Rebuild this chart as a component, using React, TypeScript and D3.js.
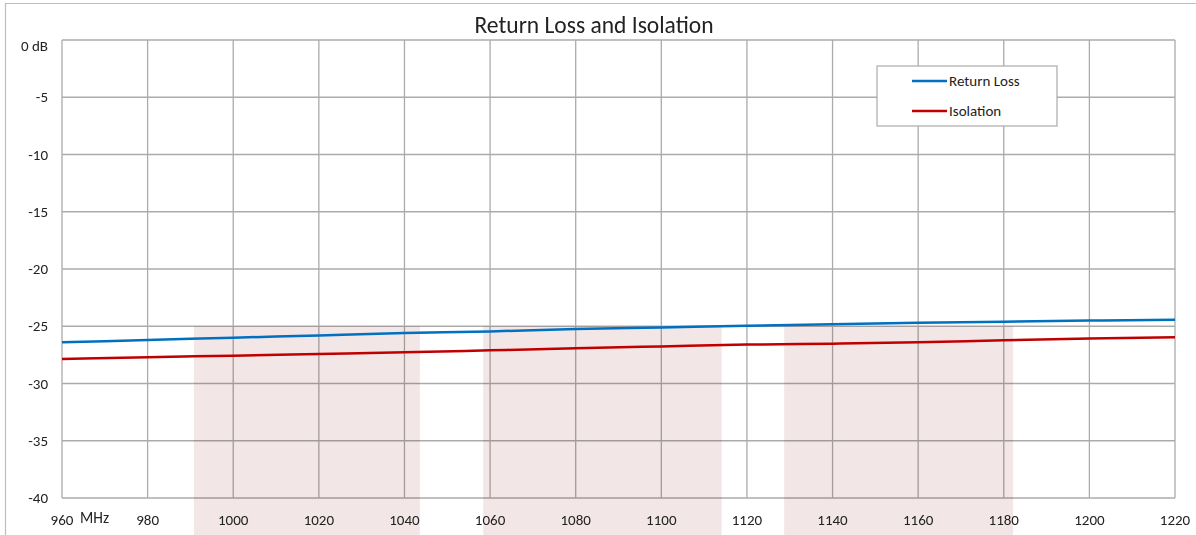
import React, { useRef, useEffect } from "react";
import * as d3 from "d3";

// frequency (MHz)
const freqs = [960, 980, 1000, 1020, 1040, 1060, 1080, 1100, 1120, 1140, 1160, 1180, 1200, 1220];
// dB values
const returnLoss = [-26.4, -26.2, -26.0, -25.8, -25.6, -25.45, -25.25, -25.1, -24.95, -24.83, -24.7, -24.6, -24.5, -24.43];
const isolation = [-27.86, -27.7, -27.57, -27.43, -27.28, -27.1, -26.93, -26.76, -26.6, -26.52, -26.4, -26.23, -26.08, -25.97];
// shaded frequency bands (MHz)
const bands: [number, number][] = [[990.8, 1043.6], [1058.4, 1114.1], [1128.7, 1182.2]];
const xTicks = [960, 980, 1000, 1020, 1040, 1060, 1080, 1100, 1120, 1140, 1160, 1180, 1200, 1220];
const yTicks = [0, -5, -10, -15, -20, -25, -30, -35, -40];

const series = [
    { name: "Return Loss", values: returnLoss, color: "#0070c0" },
    { name: "Isolation", values: isolation, color: "#c00000" },
];

export default function App() {
    const ref = useRef<SVGSVGElement | null>(null);

    useEffect(() => {
        const width = 1196;
        const height = 535;
        const left = 62, right = 1175, top = 40, bottom = 498;
        const font = "Carlito, 'Open Sans', 'Liberation Sans', sans-serif";

        const svg = d3.select(ref.current);
        svg.selectAll("*").remove();
        svg.attr("width", width).attr("height", height);

        const x = d3.scaleLinear().domain([960, 1220]).range([left, right]);
        const y = d3.scaleLinear().domain([-40, 0]).range([bottom, top]);

        svg.append("rect").attr("width", width).attr("height", height).attr("fill", "#fff");

        // outer chart border
        svg.append("path")
            .attr("d", `M5.5,${height + 2}V3.5H${width + 2}`)
            .attr("fill", "none")
            .attr("stroke", "#bdbdbd")
            .attr("stroke-width", 1.2);

        // grid
        const grid = svg.append("g").attr("stroke", "#ababab").attr("stroke-width", 1.3);
        grid.selectAll("line.v")
            .data(xTicks)
            .enter()
            .append("line")
            .attr("x1", (d) => x(d))
            .attr("x2", (d) => x(d))
            .attr("y1", top)
            .attr("y2", bottom);
        grid.selectAll("line.h")
            .data(yTicks)
            .enter()
            .append("line")
            .attr("x1", left)
            .attr("x2", right)
            .attr("y1", (d) => y(d))
            .attr("y2", (d) => y(d));

        // shaded bands (drawn over grid, multiplied)
        svg.append("g")
            .selectAll("rect")
            .data(bands)
            .enter()
            .append("rect")
            .attr("x", (d) => x(d[0]))
            .attr("width", (d) => x(d[1]) - x(d[0]))
            .attr("y", y(-25))
            .attr("height", height - y(-25))
            .attr("fill", "#f3e6e6")
            .style("mix-blend-mode", "multiply");

        // lines
        const line = d3.line<number>()
            .x((_, i) => x(freqs[i]))
            .y((d) => y(d))
            .curve(d3.curveMonotoneX);
        svg.append("g")
            .selectAll("path")
            .data(series)
            .enter()
            .append("path")
            .attr("d", (d) => line(d.values))
            .attr("fill", "none")
            .attr("stroke", (d) => d.color)
            .attr("stroke-width", 2.5);

        // y labels
        svg.append("g")
            .selectAll("text")
            .data(yTicks)
            .enter()
            .append("text")
            .attr("x", 48)
            .attr("y", (d) => y(d) + (d === 0 ? 11 : 5))
            .attr("text-anchor", "end")
            .attr("font-family", font)
            .attr("font-size", 15)
            .attr("fill", "#222")
            .text((d) => (d === 0 ? "0 dB" : String(d)));

        // x labels
        svg.append("g")
            .selectAll("text")
            .data(xTicks)
            .enter()
            .append("text")
            .attr("x", (d) => x(d))
            .attr("y", 525)
            .attr("text-anchor", "middle")
            .attr("font-family", font)
            .attr("font-size", 15)
            .attr("fill", "#222")
            .text((d) => String(d));
        svg.append("text")
            .attr("x", 80)
            .attr("y", 523)
            .attr("font-family", font)
            .attr("font-size", 15.5)
            .attr("fill", "#222")
            .text("MHz");

        // title
        svg.append("text")
            .attr("x", 594)
            .attr("y", 33)
            .attr("text-anchor", "middle")
            .attr("font-family", font)
            .attr("font-size", 23.5)
            .attr("fill", "#222")
            .text("Return Loss and Isolation");

        // legend
        const lg = svg.append("g").attr("transform", "translate(877,66)");
        lg.append("rect")
            .attr("width", 180)
            .attr("height", 60)
            .attr("fill", "#fff")
            .attr("stroke", "#ababab")
            .attr("stroke-width", 1.2);
        series.forEach((s, i) => {
            const ly = 15 + i * 30;
            lg.append("line")
                .attr("x1", 35)
                .attr("x2", 70)
                .attr("y1", ly)
                .attr("y2", ly)
                .attr("stroke", s.color)
                .attr("stroke-width", 2.5);
            lg.append("text")
                .attr("x", 72)
                .attr("y", ly + 5)
                .attr("font-family", font)
                .attr("font-size", 15)
                .attr("fill", "#222")
                .text(s.name);
        });
    }, []);

    return (
        <svg ref={ref} style={{ position: "absolute", left: 0, top: 0, display: "block" }}></svg>
    );
}
